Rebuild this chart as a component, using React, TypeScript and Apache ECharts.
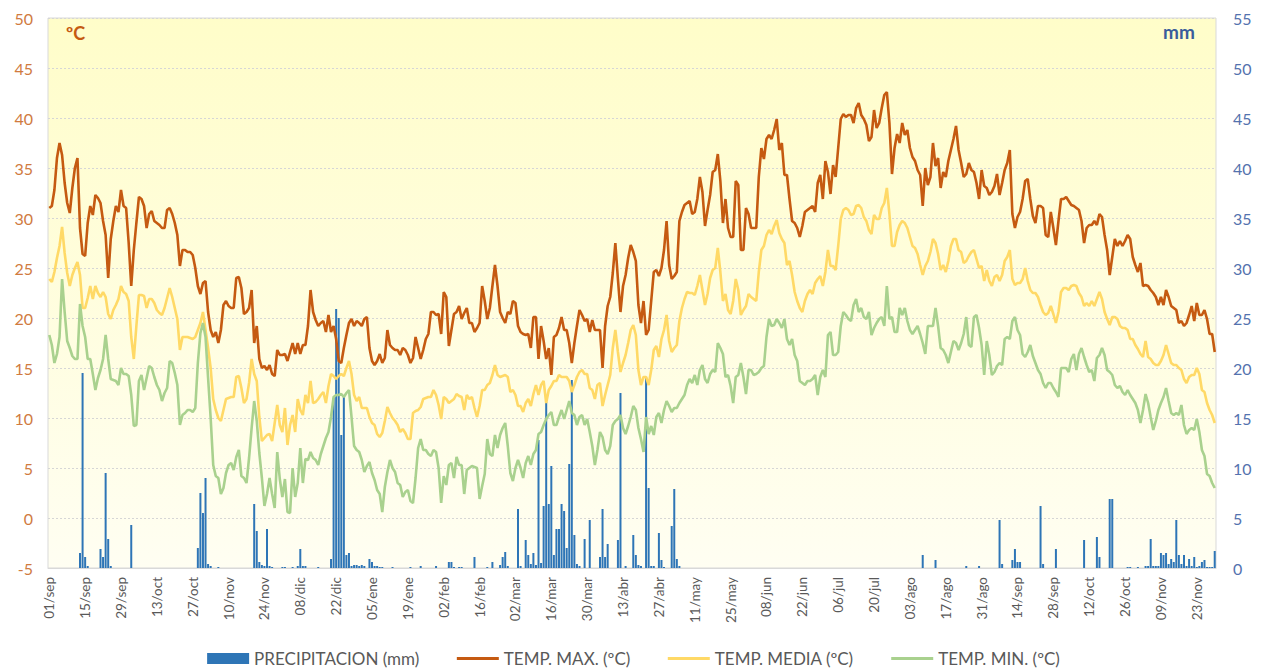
import React, { useEffect, useRef } from 'react';
import * as echarts from 'echarts';

const MONTH_NAMES = ['sep', 'oct', 'nov', 'dic', 'ene', 'feb', 'mar', 'abr', 'may', 'jun', 'jul', 'ago', 'sep', 'oct', 'nov'];
const MONTH_DAYS = [30, 31, 30, 31, 31, 28, 31, 30, 31, 30, 31, 31, 30, 31, 30];

const CATEGORIES: string[] = [];
MONTH_NAMES.forEach((m, i) => {
  for (let d = 1; d <= MONTH_DAYS[i]; d++) CATEGORIES.push(String(d).padStart(2, '0') + '/' + m);
});

const TEMP_MAX = [
  31, 31.2, 32.8, 36, 37.5, 36.3, 33.5, 31.5, 30.5, 33, 35, 36, 29, 26.4,
  26.2, 29.5, 31.2, 30.3, 32.3, 32, 31.5, 29.7, 28.3, 24, 27.9, 29.7, 31.2, 30.6,
  32.8, 31.2, 31, 27.5, 23.2, 26.8, 29.5, 32.1, 31.9, 31.2, 29, 30.4, 30.7, 29.7,
  29.5, 29.3, 29, 29, 30.8, 31, 30.4, 29.5, 28.3, 25.2, 26.8, 26.8, 26.6, 26.6,
  26.3, 25, 23.2, 22.4, 23.5, 23.7, 20.6, 18.8, 18.1, 18.6, 17.5, 18.8, 21.3, 21.7,
  21.2, 21, 21, 24, 24.1, 23, 20.4, 20.6, 21, 22.8, 17.5, 19.2, 15.9, 15,
  15.2, 14.8, 15.3, 14.4, 14.2, 16.8, 16.3, 16.3, 16.4, 15.7, 16.6, 17.5, 16.4, 17.5,
  16.4, 17.3, 17.3, 19.2, 22.8, 20.6, 19.8, 19.2, 19.5, 19.7, 18.6, 20.3, 18.6, 19.2,
  17.9, 15.7, 15.5, 17, 18.3, 19.5, 19.9, 19.2, 19.7, 19.5, 19.2, 19.9, 20.1, 17,
  15.7, 15.3, 15.7, 16.4, 15.5, 16, 18.8, 17.3, 17, 16.8, 16.8, 16.3, 17, 16.8,
  16.3, 15.5, 16, 18.1, 17, 15.9, 16.8, 17.9, 18.4, 20.6, 20.6, 20.3, 20.4, 18.4,
  22.6, 22.1, 17.2, 18.8, 20.4, 20.6, 21.2, 19.9, 20.5, 21, 19.5, 19.5, 18.6, 19,
  19.5, 23.2, 21.7, 19.9, 21, 23.2, 25.3, 23.2, 20.6, 20, 19.5, 20.6, 20.4, 21.7,
  21.5, 19.2, 18.6, 18.4, 18.3, 18.4, 17, 20.1, 20.1, 15.9, 19.2, 17.7, 15.9, 17,
  14.3, 18.1, 18.3, 19, 20.1, 18.8, 18.8, 17.5, 15.5, 17.5, 19.2, 20.8, 20.3, 19.7,
  19.9, 18.6, 19.8, 18.8, 18.8, 18.8, 15, 19.2, 21.2, 22.1, 24.5, 27.5, 23.9, 20.6,
  23.2, 24.3, 26, 27.3, 26.6, 25.7, 21.3, 19.5, 21.7, 18.3, 18.8, 21.7, 24.6, 24.8,
  24.2, 25, 26.8, 29.7, 25.3, 23.9, 24.2, 24.6, 29.7, 30.6, 31.3, 31.5, 31.7, 30.4,
  30.6, 31.9, 34.1, 32.6, 29.2, 30.8, 32.3, 34.6, 34.8, 36.4, 33.7, 29.5, 31.9, 29,
  28.1, 28.1, 33.7, 33.3, 26.8, 26.8, 31, 30.4, 29, 29, 29, 34.1, 37, 35.9,
  37.9, 38.3, 37.9, 38.8, 39.9, 36.8, 37.5, 34.3, 34.3, 31.9, 29.7, 29.5, 29, 28.1,
  29.2, 30.6, 30.8, 31, 31.2, 30.6, 33.5, 34.3, 31.9, 35.7, 34.6, 32.4, 35.3, 34.1,
  37, 39.9, 40.4, 40.1, 40.3, 40.3, 39.5, 41, 41.5, 40.3, 39.9, 39.3, 37.7, 38.1,
  40.8, 39, 39.5, 41, 42.3, 42.6, 39.5, 34.4, 37, 38.4, 37.5, 39.5, 38.3, 38.8,
  37, 36.1, 35.7, 34.8, 34.3, 31.2, 35, 33.3, 34.1, 37.5, 35.2, 36, 33, 34.6,
  34.1, 35.7, 36.8, 37.9, 39.2, 36.8, 35.5, 34.1, 34.4, 35.5, 34.8, 34.6, 33.5, 31.9,
  34.8, 33.2, 33, 32.3, 32.6, 33.2, 34.4, 32.3, 33.5, 34.8, 35.5, 36.8, 30.4, 29,
  30.1, 30.6, 31.9, 33.7, 33.9, 31.9, 30.2, 29.5, 31.2, 31.2, 31, 28.3, 28.1, 30.6,
  29, 27.3, 29.7, 31.9, 31.9, 32.1, 31.7, 31.3, 31.2, 31, 30.8, 29.7, 27.5, 29,
  29.3, 29.3, 29.7, 29.3, 30.4, 30.1, 28.3, 26.8, 24.3, 26.1, 27.9, 27.2, 27.7, 27.2,
  27.7, 28.3, 27.9, 26.1, 25.3, 24.6, 25.5, 23.2, 23.3, 23.2, 22.8, 22.5, 22.1, 21.3,
  22.1, 21.3, 22.8, 22.1, 21.2, 21, 20.8, 19.5, 19.7, 19.2, 19.5, 20.3, 21.2, 19.7,
  21.5, 20.3, 20.3, 20.8, 19.9, 18.4, 18.4, 16.6,
];

const TEMP_MEDIA = [
  23.9, 23.6, 24.6, 26, 27.2, 29.1, 26.5, 24.5, 23.2, 24.3, 25, 25.6, 24.3, 21,
  21, 22, 23.2, 21.9, 23.2, 22.5, 22.1, 22.6, 22.1, 20.4, 19.9, 20.8, 21.3, 21.9,
  23.2, 22.6, 22.4, 21.7, 18.1, 15.9, 19.2, 22.3, 22.3, 22.2, 21, 21.9, 21.9, 21.5,
  20.8, 20.5, 20.3, 21, 22, 23, 22.1, 21, 19.9, 16.8, 18.1, 18.1, 18.1, 18,
  17.9, 18.1, 18.8, 19.5, 20.6, 18.8, 17, 15, 11.9, 10.8, 10, 9.7, 10.8, 11.9,
  12, 12.1, 12.1, 14.1, 14.2, 13, 11.5, 11.9, 13.5, 15.9, 14.4, 13.7, 10.1, 7.7,
  8, 8.3, 8.4, 7.7, 9.5, 11.3, 9.3, 8.6, 11, 7.3, 9.3, 10.3, 8.6, 11.9,
  10.8, 10.3, 12.3, 11.5, 13.7, 11.5, 11.6, 11.9, 12.3, 12.6, 11.5, 13.2, 14.4, 14.2,
  13.9, 14.2, 14.4, 14.2, 15, 15.7, 14.4, 12.3, 11.7, 12.1, 11, 11, 11, 10.1,
  9.5, 9.3, 8.4, 8.1, 8.5, 9.7, 11.1, 10.5, 10, 9.7, 9.3, 8.6, 8.9, 8.5,
  7.9, 7.9, 10.5, 10.7, 10.8, 11.1, 11.9, 12, 12.1, 12.1, 12.8, 12.3, 11.3, 9.9,
  12.1, 11.9, 11.5, 11.7, 11.9, 12.4, 12.2, 12.1, 10.8, 12.3, 11.9, 12.1, 11, 10.1,
  11.2, 12.8, 12.8, 13.3, 13.5, 14.3, 15.3, 14.3, 14.1, 14.2, 14.3, 14.1, 12.6, 12.8,
  12.3, 11.2, 11.2, 10.6, 11.5, 11.9, 11.2, 12.4, 13.3, 12.3, 13.3, 13.7, 11.5, 12.8,
  13.2, 13.7, 13.7, 14.3, 14.1, 14.1, 14.1, 13.7, 12.6, 13.3, 14.1, 14.6, 14.8, 14.4,
  14.4, 13, 12.8, 11.9, 13.3, 13.5, 11.2, 12.3, 13.3, 14.3, 17, 18.8, 16.6, 14.6,
  15.5, 16.3, 17.5, 18.8, 19.3, 18.3, 14.8, 13.3, 14.1, 14.1, 13.3, 14.8, 16.8, 17.2,
  16.1, 17.9, 18.8, 20.3, 17.7, 16.6, 17, 17.3, 19.7, 21, 21.9, 22.6, 22.5, 22.5,
  22.3, 23.2, 24.3, 22.8, 21.3, 22.4, 24, 24.8, 25, 27, 24.6, 21.7, 22.4, 20.8,
  20.4, 21.7, 23.9, 22.8, 20.3, 20.8, 21.2, 22.4, 22.1, 21.9, 21.7, 24.6, 26.8, 27.2,
  28.3, 28.8, 28.4, 29.2, 29.8, 28.5, 27.9, 27.5, 25.3, 25.7, 24.3, 22.6, 21.7, 21,
  20.6, 21.7, 22.4, 22.8, 22.4, 23.5, 23.9, 24.2, 23.2, 24.6, 26.8, 25.2, 25.2, 24.8,
  27.2, 29.9, 30.8, 31, 30.8, 30.3, 30.4, 31.2, 31.3, 31, 30.1, 29.7, 28.8, 28.4,
  30.3, 29.9, 29.9, 31, 31.5, 33, 30.4, 27.2, 27.2, 28.6, 29.3, 29.7, 29.5, 29,
  28.1, 27.2, 27, 26.4, 25.3, 24.3, 25.2, 25.7, 26.6, 27.9, 27.5, 26.4, 24.8, 25.3,
  24.6, 25.7, 27.2, 27.9, 27.9, 26.8, 26.6, 25.5, 25.7, 26.2, 26.6, 26.8, 25.9, 25,
  25.2, 23.7, 24.8, 23.7, 23.2, 24.1, 24.3, 23.7, 24.3, 25.7, 26.1, 26.8, 23.9, 23.3,
  23.5, 23.5, 23.9, 25, 23.7, 22.8, 22.5, 22.5, 22.1, 21.3, 20.6, 20.3, 20.5, 21.2,
  20.4, 19.5, 20.6, 22.6, 23, 23, 22.8, 23.2, 23.3, 23.2, 22.5, 22.1, 21.2, 21.5,
  21.2, 21.7, 21.2, 21.9, 22.6, 21.9, 20.6, 19.9, 19.3, 20.1, 20.1, 19.9, 19.2, 19,
  19, 18.8, 17.9, 17.9, 17.3, 16.9, 16.4, 16.1, 17.7, 16.1, 15.9, 15.5, 15.3, 15.3,
  15.7, 16.3, 17.3, 16.4, 15.5, 15.3, 15.3, 15, 14.8, 13.9, 13.5, 14.1, 14.3, 14.3,
  15, 14.4, 12.8, 12.6, 11.5, 10.8, 10.3, 9.5,
];

const TEMP_MIN = [
  18.3, 17.3, 15.5, 16.4, 18.1, 23.9, 20.6, 17.7, 17, 16.2, 15.9, 15.9, 21.4, 19.2,
  18.1, 15.9, 15.9, 14.4, 12.8, 14, 14.8, 15.9, 18.3, 15.9, 13.9, 13.8, 13.7, 13.3,
  15, 14.4, 14.4, 14.2, 12.3, 9.2, 9.3, 13.7, 14.3, 12.8, 14, 15.2, 15, 14.1,
  13.3, 12.8, 11.7, 12.5, 13, 15.7, 15.5, 14.5, 13.3, 9.3, 10.3, 10.5, 10.8, 10.8,
  10.6, 11, 15.5, 18.5, 19.5, 18.1, 14, 10, 5.3, 4.2, 4, 2.4, 3, 4.5,
  5.3, 5.5, 4.8, 6.1, 6.8, 4.2, 4, 3.5, 6, 9, 11.7, 9.7, 6.5, 4,
  1.2, 2.4, 4, 2.4, 1, 6.6, 3.9, 2.1, 3.9, 0.6, 0.5, 5, 2.1, 3.5,
  7, 3.5, 5.9, 5.8, 6.6, 6, 5.8, 5.3, 6.4, 7.2, 8, 8.6, 10.1, 12.1,
  12.3, 12.3, 12.4, 12.1, 12.5, 12.8, 10.1, 7.2, 6.8, 6.6, 5.8, 4.6, 5.2, 5.6,
  4.5, 3.8, 2.8, 2.4, 0.6, 3.1, 4.6, 5.8, 5, 4.6, 3.5, 3.3, 2.1, 2.6,
  2.8, 1.7, 1.5, 4, 7, 7.9, 6.8, 6.8, 6.4, 6.2, 6.8, 6.6, 5, 1.5,
  4.2, 3.3, 5.3, 5.5, 4, 6.1, 5.3, 5.3, 2.4, 4.8, 5, 5.2, 5.1, 5,
  1.9, 3.2, 4.4, 7.9, 6.4, 6.2, 8.3, 7, 8.3, 9, 9.5, 7.2, 4.5, 3.7,
  5, 5.8, 5, 4, 5.5, 6.2, 5.3, 6.4, 6.8, 8.4, 8.6, 9.3, 9.9, 10.3,
  10.6, 9.3, 9.3, 10.1, 10.8, 9.9, 10.8, 11.7, 10.5, 10.3, 9.3, 10.1, 10.3, 9.3,
  9.9, 8.6, 7.2, 5.3, 6.8, 8.6, 8.1, 6.8, 6.4, 7.2, 9.3, 9.7, 9.9, 10.3,
  9, 8.4, 9.2, 10.1, 11.2, 10.8, 9, 7.9, 6.6, 10.1, 8.4, 9.2, 8.3, 10.1,
  10.5, 9.5, 10.8, 11.7, 11.2, 10.6, 11, 11, 11.5, 11.9, 12.3, 13.3, 13.9, 13.5,
  14.3, 13.3, 14.8, 15.3, 13.9, 13.5, 14.4, 14.8, 14.6, 17.5, 17, 16.4, 14.1, 14.3,
  13.2, 11.5, 14.1, 14.3, 15.5, 14.1, 12.4, 14.8, 14.8, 14.3, 14.4, 14.6, 15, 15.2,
  18.1, 19.9, 19.2, 19.3, 19.9, 19.5, 19, 19.9, 17.9, 17.3, 17.9, 16.3, 15.7, 13.7,
  13.5, 13.3, 13.7, 13.7, 13.9, 14.3, 12.3, 14.1, 14.8, 14.1, 18.3, 18.6, 16.3, 16.3,
  16.6, 19.2, 20.6, 20.3, 19.9, 19.7, 21.3, 21.9, 20.6, 21, 20.1, 19.9, 20.6, 18.3,
  19, 19.5, 19.9, 20.1, 19.2, 23.2, 19.9, 20.1, 18.6, 18.6, 21, 20.3, 21, 19.7,
  18.8, 18.4, 18.8, 19.2, 18.4, 17.5, 16.4, 19.2, 19.2, 19.2, 21, 19.2, 17, 16.8,
  16.3, 15.5, 16.6, 17.7, 17.5, 16.8, 17.5, 18.4, 20.1, 17.3, 17.1, 20.1, 20.3, 19,
  17.3, 14.3, 17.7, 16.3, 14.3, 14.6, 15.2, 15.5, 15.3, 17.9, 18.1, 17.9, 19.7, 20.1,
  18.8, 18.3, 16.4, 16.1, 16.6, 17.3, 16.2, 15.5, 14.8, 14.4, 13.5, 13, 13.5, 13.5,
  13, 12.6, 12.1, 15, 15, 15, 14.6, 15.9, 16.4, 14.8, 16.4, 17, 16.1, 15.3,
  14.6, 14.8, 13.7, 16, 16.3, 17, 16.3, 14.8, 14.6, 14.3, 13.3, 13, 13.2, 12.6,
  12.3, 12.8, 12.3, 11.9, 11.5, 10.8, 9.5, 10.8, 12.4, 11.5, 10.1, 8.8, 9.7, 10.8,
  11.5, 12.1, 13, 11.7, 10.5, 10.3, 10.5, 10.3, 11.3, 9.3, 8.4, 8.8, 9, 8.8,
  9.9, 8.6, 6.8, 6.2, 4.4, 4.2, 3.5, 3,
];

// [day index, mm]
const RAIN_EVENTS: [number, number][] = [
  [12, 1.5], [13, 19.5], [14, 1.1], [15, 0.2], [20, 1.9], [21, 1.1], [22, 9.5], [23, 2.9], [24, 0.2], [32, 4.3],
  [58, 2], [59, 7.5], [60, 5.5], [61, 9], [62, 0.4], [63, 0.2], [66, 0.1],
  [80, 6.4], [81, 3.7], [82, 0.6], [83, 0.3], [84, 0.2], [85, 3.9], [86, 0.2], [87, 0.1],
  [91, 0.1], [92, 0.1], [95, 0.1], [97, 0.2], [98, 1.9], [99, 0.2], [100, 0.2], [105, 0.1],
  [110, 0.9], [111, 17], [112, 25.9], [113, 25], [114, 13.3], [115, 17.1], [116, 1.3], [117, 1.5], [118, 0.2],
  [119, 0.3], [120, 0.3], [121, 0.2], [122, 0.3], [123, 0.2], [125, 0.9], [126, 0.6], [127, 0.2], [128, 0.2],
  [129, 0.1], [130, 0.1], [134, 0.1], [141, 0.1], [145, 0.2],
  [151, 0.2], [156, 0.6], [157, 0.6], [158, 0.1], [160, 0.1], [161, 0.1], [166, 1.1], [171, 0.1], [173, 0.6],
  [176, 0.3], [177, 1.1], [178, 1.6], [179, 0.2], [183, 5.9], [184, 0.2], [186, 2.8], [187, 1.3], [188, 0.4],
  [189, 1.5], [190, 0.3], [191, 12.8], [192, 0.5], [193, 6.2], [194, 16.6], [195, 6.4], [196, 10.2], [197, 1.3],
  [198, 3.9], [199, 3.9], [200, 6.4], [201, 5.7], [202, 2], [203, 10.4], [204, 18.8], [205, 3.3], [206, 0.4],
  [207, 0.2], [209, 2.9], [211, 4.8], [215, 1.1], [216, 5.9], [217, 1.1], [218, 2.4], [222, 2.8], [223, 17.5],
  [225, 0.2], [228, 3.3], [229, 1.3], [230, 0.3], [231, 0.2], [233, 19.1], [234, 8], [235, 0.2], [236, 0.2],
  [238, 3.5], [239, 0.8], [240, 0.1], [243, 4.2], [244, 7.9], [245, 0.9], [246, 0.2],
  [341, 1.3], [346, 0.8], [358, 0.2], [363, 0.2], [371, 4.8], [372, 0.4], [376, 0.8], [377, 1.9], [378, 0.6],
  [379, 0.6], [387, 6.2], [388, 0.4], [393, 1.9], [404, 2.8], [409, 3.1], [410, 1.1], [414, 6.9], [415, 6.9],
  [421, 0.1], [422, 0.1], [425, 0.1], [428, 0.2], [429, 0.2], [430, 2.9], [431, 0.2], [432, 0.2], [433, 0.2],
  [434, 1.5], [435, 1.3], [436, 1.5], [437, 0.4], [438, 0.9], [439, 0.6], [440, 4.8], [441, 1.3], [442, 0.4],
  [443, 1.3], [444, 0.2], [445, 0.9], [446, 0.2], [447, 1.1], [448, 0.1], [449, 0.2], [450, 0.6], [451, 0.8],
  [452, 0.1], [453, 0.1], [454, 0.1], [455, 1.7],
];

const LEFT_TICKS = { min: -5, max: 50, interval: 5 };
const RIGHT_TICKS = { min: 0, max: 55, interval: 5 };

const FONT = 'Lato, "Open Sans", sans-serif';

export default function App() {
  const ref = useRef<HTMLDivElement>(null);

  useEffect(() => {
    if (!ref.current) return;
    const chart = echarts.init(ref.current, undefined, { renderer: 'svg' });
    const lineSeries = (name: string, data: number[], color: string) => ({
      name,
      type: 'line',
      data,
      yAxisIndex: 0,
      symbol: 'none',
      showSymbol: false,
      lineStyle: { color, width: 2.6 },
      itemStyle: { color },
      z: 3,
    });
    const lineLegend = (name: string) => ({
      name,
      itemStyle: { opacity: 0 },
      lineStyle: { width: 3 },
    });
    chart.setOption({
      animation: false,
      backgroundColor: '#ffffff',
      textStyle: { fontFamily: FONT },
      grid: {
        left: 48,
        right: 51,
        top: 18,
        bottom: 104,
        show: true,
        borderColor: '#D9D9D9',
        borderWidth: 1,
        backgroundColor: new echarts.graphic.LinearGradient(0, 0, 0, 1, [
          { offset: 0, color: '#FFFDC9' },
          { offset: 1, color: '#FFFEF2' },
        ]),
      },
      legend: {
        bottom: 0,
        left: 'center',
        itemWidth: 42,
        itemHeight: 11,
        itemGap: 36,
        textStyle: { color: '#595959', fontSize: 17, fontFamily: FONT },
        data: [
          { name: 'PRECIPITACION (mm)', icon: 'rect' },
          lineLegend('TEMP. MAX. (ºC)'),
          lineLegend('TEMP. MEDIA (ºC)'),
          lineLegend('TEMP. MIN. (ºC)'),
        ],
      },
      xAxis: {
        type: 'category',
        data: CATEGORIES,
        boundaryGap: true,
        axisLine: { show: true, onZero: false, lineStyle: { color: '#D9D9D9' } },
        axisTick: { show: false },
        axisLabel: {
          interval: 13,
          rotate: 90,
          color: '#595959',
          fontSize: 13.5,
          margin: 9,
          fontFamily: FONT,
        },
        splitLine: { show: false },
      },
      yAxis: [
        {
          type: 'value',
          position: 'left',
          min: LEFT_TICKS.min,
          max: LEFT_TICKS.max,
          interval: LEFT_TICKS.interval,
          axisLine: { show: false },
          axisTick: { show: false },
          axisLabel: { color: '#D07B3F', fontSize: 16, margin: 15, fontFamily: FONT },
          splitLine: { show: true, lineStyle: { color: '#D6D6D6', type: [2, 2], width: 1 } },
        },
        {
          type: 'value',
          position: 'right',
          min: RIGHT_TICKS.min,
          max: RIGHT_TICKS.max,
          interval: RIGHT_TICKS.interval,
          axisLine: { show: false },
          axisTick: { show: false },
          axisLabel: { color: '#5472AE', fontSize: 16, margin: 17, fontFamily: FONT },
          splitLine: { show: false },
        },
      ],
      series: [
        {
          name: 'PRECIPITACION (mm)',
          type: 'bar',
          yAxisIndex: 1,
          data: RAIN_EVENTS.map(([d, v]) => [d, v]),
          barWidth: 2,
          itemStyle: { color: '#2E75B6' },
          z: 2,
        },
        lineSeries('TEMP. MAX. (ºC)', TEMP_MAX, '#C55A11'),
        lineSeries('TEMP. MEDIA (ºC)', TEMP_MEDIA, '#FFD966'),
        lineSeries('TEMP. MIN. (ºC)', TEMP_MIN, '#A9D18E'),
      ],
      graphic: [
        {
          type: 'text',
          left: 66,
          top: 24,
          style: { text: 'ºC', fill: '#C55A11', font: `bold 18px ${FONT}` },
        },
        {
          type: 'text',
          left: 1163,
          top: 22,
          style: { text: 'mm', fill: '#3A5C9C', font: `bold 19px ${FONT}` },
        },
      ],
    });
    return () => chart.dispose();
  }, []);

  return (
    <div
      ref={ref}
      style={{ position: 'fixed', left: 0, top: 0, width: 1267, height: 672, background: '#fff' }}
    />
  );
}
